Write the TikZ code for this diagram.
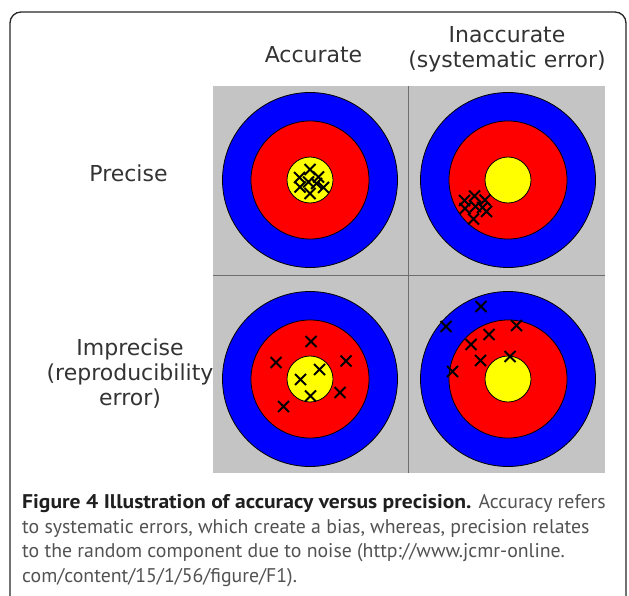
\documentclass[tikz,border=0pt]{standalone}
\usepackage{fontspec}
\setmainfont{DejaVu Sans}
\newfontfamily\capfont{PT Sans}[BoldFeatures={FakeStretch=1.09}]
\definecolor{panel}{HTML}{C4C4C4}
\definecolor{tblue}{HTML}{0000FF}
\definecolor{tred}{HTML}{FF0000}
\definecolor{tyellow}{HTML}{FFFF00}
\definecolor{divider}{HTML}{6E6E6E}
\begin{document}
\begin{tikzpicture}[x=1pt,y=-1pt,
  lab/.style={font=\fontsize{22}{25}\selectfont, text=black!80, inner sep=0, anchor=base},
  capline/.style={anchor=base west, inner sep=0, font=\capfont\fontsize{19.8}{25}\selectfont, text=black!68},
  xmark/.style={line width=2.1pt, black, line cap=butt},
  ring/.style={draw=black, line width=0.8pt},
  target/.pic={
    \fill[tblue] (0,0) circle[radius=87.5pt];
    \draw[ring] (0,0) circle[radius=87.5pt];
    \fill[tred] (0,0) circle[radius=59pt];
    \draw[ring] (0,0) circle[radius=59pt];
    \fill[tyellow] (0,0) circle[radius=23pt];
    \draw[ring] (0,0) circle[radius=23pt];
  },
  xm/.pic={
    \draw[xmark] (-5.5pt,-5.5pt) -- (5.5pt,5.5pt) (-5.5pt,5.5pt) -- (5.5pt,-5.5pt);
  }]
\useasboundingbox (0,0) rectangle (629,596);
% outer frame (open at bottom)
\draw[line width=1.3pt, rounded corners=11pt, black!85] (10,620) -- (10,12) -- (626,12) -- (626,620);
% grey panel and dividers
\fill[panel] (213,86) rectangle (605,473);
\draw[divider, line width=1pt] (408,86) -- (408,473);
\draw[divider, line width=1pt] (213,275) -- (605,275);
% targets
\pic at (310,180) {target};
\pic at (508,180) {target};
\pic at (310,379) {target};
\pic at (508,379) {target};
% crosses: precise & accurate
\foreach \p in {(310,169.5),(299.5,177.5),(318.5,177),(308.5,182),(300,187),(323.5,187.5),(310,193.5),(316.5,183.5)}
  \pic at \p {xm};
% crosses: precise & inaccurate
\foreach \p in {(464.5,200.5),(474.5,196),(485,200),(465,208.5),(475.5,206.5),(486.5,211.5),(473.5,219),(482.5,207.5)}
  \pic at \p {xm};
% crosses: imprecise & accurate
\foreach \p in {(311,341.5),(276,362.5),(346,361),(319.5,369.5),(300.5,379.5),(340,392.5),(310.5,396),(283.5,406.5)}
  \pic at \p {xm};
% crosses: imprecise & inaccurate
\foreach \p in {(481,306.5),(446,326.5),(516.5,325.5),(489,334.5),(471,344.5),(510,356.5),(480.5,360.5),(452.5,371.5)}
  \pic at \p {xm};
% labels
\node[lab] (acc) at (313.5,63) {Accurate};
\node[lab] (inacc1) at (507,43) {Inaccurate};
\node[lab] (inacc2) at (507,68) {(systematic error)};
\node[lab] (prec) at (128.5,182) {Precise};
\node[lab] (imp1) at (130,355) {Imprecise};
\node[lab] (imp2) at (130,380) {(reproducibility};
\node[lab] (imp3) at (130,405) {error)};
% caption
\node[capline] (c1) at (22,508.5) {{\bfseries\color{black!88}Figure 4 Illustration of accuracy versus precision.} Accuracy refers};
\node[capline] (c2) at (22,533) {to systematic errors, which create a bias, whereas, precision relates};
\node[capline] (c3) at (22,557.5) {to the random component due to noise (http://www.jcmr-online.};
\node[capline] (c4) at (22,582) {com/content/15/1/56/figure/F1).};
\end{tikzpicture}
\end{document}
